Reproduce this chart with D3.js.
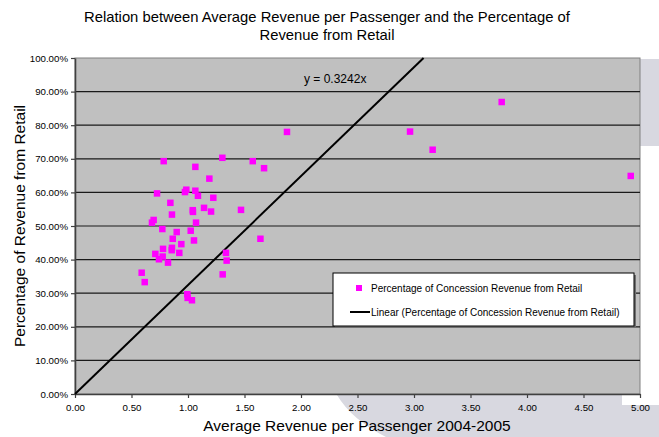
<!DOCTYPE html>
<html>
<head>
<meta charset="utf-8">
<script src="https://cdn.jsdelivr.net/npm/d3@7/dist/d3.min.js"></script>
<style>
  html, body { margin: 0; padding: 0; background: #ffffff; }
  svg { display: block; font-family: "Liberation Sans", Arial, sans-serif; }
</style>
</head>
<body>
<svg id="chart" width="659" height="437"></svg>
<script>
// Average revenue per passenger (2004-2005) for each airport
const revenuePerPassenger = [
  0.785, 1.304, 1.573, 1.065, 1.189, 0.726, 0.973, 0.985, 1.065, 1.088,
  1.224, 0.844, 0.858, 1.042, 1.044, 1.142, 1.204, 1.469, 0.696, 0.681,
  1.071, 0.773, 0.900, 1.024, 0.865, 1.053, 0.941, 1.641, 0.779, 0.858,
  0.856, 0.923, 0.711, 0.776, 0.743, 0.823, 1.336, 1.342, 0.590, 0.617,
  1.307, 0.994, 0.997, 1.035, 1.673, 1.876, 2.965, 3.165, 3.776, 4.918
];
// Share of concession revenue coming from retail (fraction)
const retailShare = [
  0.693, 0.703, 0.693, 0.676, 0.641, 0.597, 0.601, 0.608, 0.605, 0.590,
  0.584, 0.569, 0.534, 0.547, 0.542, 0.554, 0.543, 0.548, 0.518, 0.510,
  0.510, 0.491, 0.482, 0.486, 0.462, 0.457, 0.446, 0.462, 0.432, 0.435,
  0.428, 0.420, 0.417, 0.409, 0.401, 0.391, 0.420, 0.397, 0.361, 0.333,
  0.356, 0.297, 0.286, 0.279, 0.672, 0.780, 0.781, 0.727, 0.869, 0.649
];
// Linear trend through the origin
const trendSlope = 0.3242;
const xTicks = [0, 0.5, 1, 1.5, 2, 2.5, 3, 3.5, 4, 4.5, 5];
const yTicks = [0, 0.1, 0.2, 0.3, 0.4, 0.5, 0.6, 0.7, 0.8, 0.9, 1.0];
const titleLines = [
  "Relation between Average Revenue per Passenger and the Percentage of",
  "Revenue from Retail"
];
const xTitle = "Average Revenue per Passenger 2004-2005";
const yTitle = "Percentage of Revenue from Retail";
const legendLabels = [
  "Percentage of Concession Revenue from Retail",
  "Linear (Percentage of Concession Revenue from Retail)"
];
const equationLabel = "y = 0.3242x";

const svg = d3.select("#chart");
const plot = { left: 75, right: 640, top: 58, bottom: 394 };

const x = d3.scaleLinear().domain([0, 5]).range([plot.left, plot.right]);
const y = d3.scaleLinear().domain([0, 1]).range([plot.bottom, plot.top]);

// Decorative slide background shapes
const bg = svg.append("g").attr("fill", "#d8d8e0");
bg.append("rect").attr("x", plot.right).attr("y", plot.top + 1)
  .attr("width", 659 - plot.right).attr("height", 87);
bg.append("path").attr("d",
  "M337,395 Q352,420 386,437 L659,437 L659,405 L622,405 L622,395 Z");

// Plot area
svg.append("rect")
  .attr("x", plot.left).attr("y", plot.top)
  .attr("width", plot.right - plot.left).attr("height", plot.bottom - plot.top)
  .attr("fill", "#c0c0c0")
  .attr("stroke", "#808080").attr("stroke-width", 1);

// Horizontal gridlines
svg.append("g")
  .selectAll("line")
  .data(yTicks.filter(t => t > 0 && t < 1))
  .join("line")
  .attr("x1", plot.left).attr("x2", plot.right)
  .attr("y1", d => y(d)).attr("y2", d => y(d))
  .attr("stroke", "#1a1a1a").attr("stroke-width", 1.2);

// Axes
const fmt = d3.format(".2f");
const xAxis = svg.append("g")
  .attr("transform", `translate(0,${plot.bottom})`)
  .call(d3.axisBottom(x).tickValues(xTicks).tickFormat(fmt).tickSizeInner(4).tickSizeOuter(0).tickPadding(6));
const yAxis = svg.append("g")
  .attr("transform", `translate(${plot.left},0)`)
  .call(d3.axisLeft(y).tickValues(yTicks).tickFormat(d => fmt(d * 100) + "%").tickSizeInner(4).tickSizeOuter(0).tickPadding(3));
[xAxis, yAxis].forEach(a => {
  a.select(".domain").attr("stroke", "#404040").attr("stroke-width", 1.6);
  a.selectAll(".tick line").attr("stroke", "#404040").attr("stroke-width", 1.2);
  a.selectAll("text").attr("font-size", 9.7).attr("fill", "#000")
    .attr("font-family", "Liberation Sans, Arial, sans-serif");
});

// Trend line, clipped at the top of the plot
const xMaxTrend = Math.min(5, 1 / trendSlope);
svg.append("line")
  .attr("x1", x(0)).attr("y1", y(0))
  .attr("x2", x(xMaxTrend)).attr("y2", y(trendSlope * xMaxTrend))
  .attr("stroke", "#000").attr("stroke-width", 2);

// Data markers
const points = revenuePerPassenger.map((v, i) => ({ x: v, y: retailShare[i] }));
const ms = 6.5;
svg.append("g")
  .selectAll("rect")
  .data(points)
  .join("rect")
  .attr("x", d => x(d.x) - ms / 2).attr("y", d => y(d.y) - ms / 2)
  .attr("width", ms).attr("height", ms)
  .attr("fill", "#ff00ff");

// Trend equation
svg.append("text")
  .attr("x", 304).attr("y", 83)
  .attr("font-size", 12).attr("fill", "#000")
  .text(equationLabel);

// Legend
const lg = svg.append("g").attr("transform", "translate(333,273)");
lg.append("rect").attr("x", 2).attr("y", 2).attr("width", 301).attr("height", 53).attr("fill", "#707070");
lg.append("rect").attr("width", 301).attr("height", 53)
  .attr("fill", "#fff").attr("stroke", "#000").attr("stroke-width", 1);
lg.append("rect").attr("x", 23).attr("y", 12).attr("width", 6).attr("height", 6).attr("fill", "#ff00ff");
lg.append("line").attr("x1", 17).attr("x2", 37).attr("y1", 39).attr("y2", 39)
  .attr("stroke", "#000").attr("stroke-width", 2);
lg.selectAll("text.lab")
  .data(legendLabels)
  .join("text")
  .attr("class", "lab")
  .attr("x", 38).attr("y", (d, i) => 18.5 + i * 24.5)
  .attr("font-size", 10).attr("fill", "#000")
  .text(d => d);

// Titles
svg.append("g").selectAll("text")
  .data(titleLines)
  .join("text")
  .attr("x", 327).attr("y", (d, i) => 22 + i * 18)
  .attr("text-anchor", "middle")
  .attr("font-size", 14.8).attr("fill", "#000")
  .text(d => d);

svg.append("text")
  .attr("x", 357).attr("y", 431)
  .attr("text-anchor", "middle")
  .attr("font-size", 15.5).attr("fill", "#000")
  .text(xTitle);

svg.append("text")
  .attr("transform", `translate(25,${(plot.top + plot.bottom) / 2}) rotate(-90)`)
  .attr("text-anchor", "middle")
  .attr("font-size", 15.5).attr("fill", "#000")
  .text(yTitle);
</script>
</body>
</html>
